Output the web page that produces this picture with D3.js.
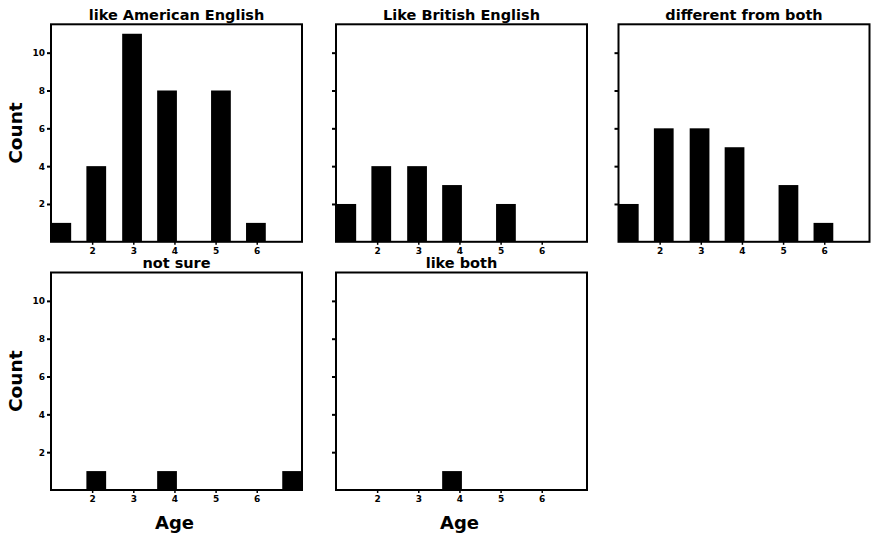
<!DOCTYPE html>
<html><head><meta charset="utf-8">
<script src="https://cdn.jsdelivr.net/npm/d3@7"></script>
<style>body{margin:0;background:#fff} svg{display:block}</style>
</head><body><svg id="c" width="873" height="534"></svg>
<script>
// ---- data ----
const panelTitles = ["like American English", "Like British English", "different from both", "not sure", "like both"];
const binCenters = [1.25, 2.1, 2.97, 3.82, 5.13, 5.98, 6.86];   // Age bin centres
const countsAmerican  = [1, 4, 11, 8, 8, 1, 0];
const countsBritish   = [2, 4, 4, 3, 2, 0, 0];
const countsDifferent = [2, 6, 6, 5, 3, 1, 0];
const countsNotSure   = [0, 1, 0, 1, 0, 0, 1];
const countsLikeBoth  = [0, 0, 0, 1, 0, 0, 0];
const xTicks = [2, 3, 4, 5, 6];
const yTicks = [2, 4, 6, 8, 10];
const xLabel = "Age", yLabel = "Count";

const seriesCounts = [countsAmerican, countsBritish, countsDifferent, countsNotSure, countsLikeBoth];

// ---- layout ----
const colLeft = [51, 336, 618.5], panelW = 251;
const rowTop = [24.3, 272.5], panelH = 217.5;
const binWidth = 0.48;
const FONT = "'DejaVu Sans', sans-serif";

const svg = d3.select("#c");
svg.append("rect").attr("width", 873).attr("height", 534).attr("fill", "#fff");

seriesCounts.forEach((counts, i) => {
  const col = i % 3, row = Math.floor(i / 3);
  const x0 = colLeft[col], y0 = rowTop[row];
  const x = d3.scaleLinear().domain([1, 7.1]).range([x0, x0 + panelW]);
  const y = d3.scaleLinear().domain([0, 11.5]).range([y0 + panelH, y0]);
  const g = svg.append("g");

  // bars
  g.selectAll("rect.bar").data(binCenters.map((c, k) => ({c, v: counts[k]})).filter(d => d.v > 0))
    .enter().append("rect").attr("class", "bar")
    .attr("x", d => x(d.c - binWidth / 2))
    .attr("width", d => x(d.c + binWidth / 2) - x(d.c - binWidth / 2))
    .attr("y", d => y(d.v))
    .attr("height", d => y(0) - y(d.v))
    .attr("fill", "#000");

  // frame
  g.append("rect").attr("x", x0).attr("y", y0).attr("width", panelW).attr("height", panelH)
    .attr("fill", "none").attr("stroke", "#000").attr("stroke-width", 2);

  // y axis
  const ya = d3.axisLeft(y).tickValues(yTicks).tickSize(4).tickPadding(2).tickFormat(d3.format("d"));
  if (col !== 0) ya.tickFormat("");
  const yg = g.append("g").attr("transform", `translate(${x0},0)`).call(ya);
  yg.select(".domain").remove();
  yg.selectAll("line").attr("stroke", "#000").attr("stroke-width", 2);
  yg.selectAll("text").attr("font-family", FONT).attr("font-weight", "bold").attr("font-size", 9).attr("fill", "#000");

  // x axis
  const xa = d3.axisBottom(x).tickValues(xTicks).tickSize(3).tickPadding(3).tickFormat(d3.format("d"));
  const xg = g.append("g").attr("transform", `translate(0,${y0 + panelH})`).call(xa);
  xg.select(".domain").remove();
  xg.selectAll("line").attr("stroke", "#000").attr("stroke-width", 1.5);
  xg.selectAll("text").attr("font-family", FONT).attr("font-weight", "bold").attr("font-size", 9).attr("fill", "#000");

  // title
  g.append("text").attr("x", x0 + panelW / 2).attr("y", y0 - 4.5)
    .attr("text-anchor", "middle").attr("font-family", FONT).attr("font-weight", "bold")
    .attr("font-size", 14.5).attr("fill", "#000").text(panelTitles[i]);

  if (col === 0) {
    g.append("text").attr("transform", `translate(22,${y0 + panelH / 2}) rotate(-90)`)
      .attr("text-anchor", "middle").attr("font-family", FONT).attr("font-weight", "bold")
      .attr("font-size", 18.5).attr("fill", "#000").text(yLabel);
  }
  if (row === 1) {
    g.append("text").attr("x", x0 + panelW / 2 - 2).attr("y", 529)
      .attr("text-anchor", "middle").attr("font-family", FONT).attr("font-weight", "bold")
      .attr("font-size", 18).attr("fill", "#000").text(xLabel);
  }
});
</script></body></html>
